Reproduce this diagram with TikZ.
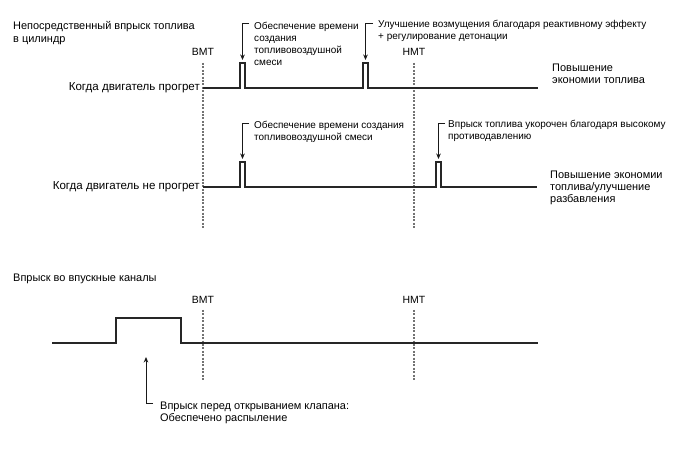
\documentclass[tikz,border=0pt]{standalone}
\usepackage{fontspec}
\setmainfont{Liberation Sans}
\usetikzlibrary{arrows.meta}
\begin{document}
\begin{tikzpicture}[x=1bp,y=-1bp,
  bigfont/.style={font=\fontsize{11}{12.4}\selectfont},
  smallfont/.style={font=\fontsize{10}{12.2}\selectfont},
  txt/.style={bigfont, inner sep=0, align=left, anchor=north west},
  ctxt/.style={smallfont, inner sep=0, align=left, anchor=north west},
  rtxt/.style={font=\fontsize{11.6}{13}\selectfont, inner sep=0, anchor=east},
  tdclabel/.style={font=\fontsize{10.5}{12}\selectfont, inner sep=0},
  wave/.style={line width=1.4bp, draw=black!85},
  tdc/.style={draw=black!55, line width=1.1bp, dash pattern=on 2bp off 1.4bp},
  arr/.style={line width=0.9bp, draw=black!90, -{Stealth[length=5.5bp,width=4.6bp]}}]
\useasboundingbox (0,0) rectangle (688,463);
\fill[white] (0,0) rectangle (688,463);

% ---- direct injection ----
\node[txt] (title1) at (13,21.5) {Непосредственный впрыск топлива\\в цилиндр};
\node[tdclabel] (bmt1) at (203,52) {BMT};
\node[tdclabel] (hmt1) at (414,52) {HMT};
\draw[tdc] (203,63) -- (203,228);
\draw[tdc] (414,63) -- (414,228);

% row 1
\node[rtxt] (warm) at (200,88) {Когда двигатель прогрет};
\draw[wave] (203,88) -- (240,88) -- (240,63) -- (245,63) -- (245,88)
  -- (363,88) -- (363,63) -- (368,63) -- (368,88) -- (538,88);
\node[ctxt] (n1) at (254,21.5) {Обеспечение времени\\создания\\топливовоздушной\\смеси};
\node[ctxt] (n2) at (378,19.8) {Улучшение возмущения благодаря реактивному эффекту\\+ регулирование детонации};
\node[txt] (r1) at (552,63.5) {Повышение\\экономии топлива};
\coordinate (a1s) at (249,23);
\coordinate (a1e) at (242.5,60);
\coordinate (a2s) at (373,23);
\coordinate (a2e) at (365.5,60);
\draw[arr] (a1s) -| (a1e);
\draw[arr] (a2s) -| (a2e);

% row 2
\node[rtxt] (cold) at (200,187) {Когда двигатель не прогрет};
\draw[wave] (203,187) -- (240,187) -- (240,162) -- (245,162) -- (245,187)
  -- (436,187) -- (436,162) -- (441,162) -- (441,187) -- (537,187);
\node[ctxt] (n3) at (254,120.8) {Обеспечение времени создания\\топливовоздушной смеси};
\node[ctxt] (n4) at (448,119.8) {Впрыск топлива укорочен благодаря высокому\\противодавлению};
\node[txt] (r2) at (550,170.5) {Повышение экономии\\топлива/улучшение\\разбавления};
\coordinate (a3s) at (249,123);
\coordinate (a3e) at (242.5,159);
\coordinate (a4s) at (445,123);
\coordinate (a4e) at (438.5,159);
\draw[arr] (a3s) -| (a3e);
\draw[arr] (a4s) -| (a4e);

% ---- port injection ----
\node[txt] (title2) at (13,273.5) {Впрыск во впускные каналы};
\node[tdclabel] (bmt2) at (203,300) {BMT};
\node[tdclabel] (hmt2) at (414,300) {HMT};
\draw[tdc] (203,310) -- (203,380);
\draw[tdc] (414,310) -- (414,380);
\draw[wave] (52,343) -- (116,343) -- (116,318) -- (181,318) -- (181,343) -- (538,343);
\node[txt] (n5) at (160,401.5) {Впрыск перед открыванием клапана:\\Обеспечено распыление};
\coordinate (a5s) at (153,403);
\coordinate (a5e) at (146,357);
\draw[arr] (a5s) -| (a5e);
\end{tikzpicture}
\end{document}
